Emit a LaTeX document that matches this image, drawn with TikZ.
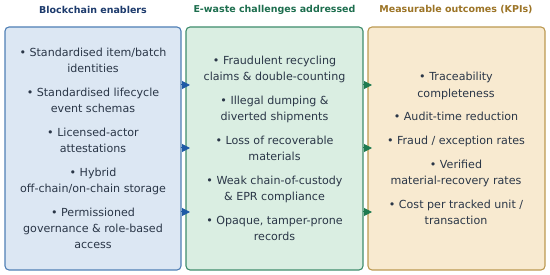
\documentclass[tikz,border=0pt]{standalone}
\usepackage{fontspec}
\setmainfont{DejaVu Sans}
\usetikzlibrary{arrows.meta}
\definecolor{bfill}{HTML}{DCE7F3}
\definecolor{bdraw}{HTML}{4F7FB5}
\definecolor{gfill}{HTML}{DAEEE2}
\definecolor{gdraw}{HTML}{3F8C6C}
\definecolor{yfill}{HTML}{F8EAD0}
\definecolor{ydraw}{HTML}{BC9A52}
\definecolor{btitle}{HTML}{1C3A6C}
\definecolor{gtitle}{HTML}{1D6E4E}
\definecolor{ytitle}{HTML}{9C7426}
\definecolor{txt}{HTML}{2A3647}
\definecolor{barrow}{HTML}{1F5AA6}
\definecolor{garrow}{HTML}{1E7A50}
\tikzset{
  panel/.style={rounded corners=4pt, line width=1.1pt},
  content/.style={text=txt, align=center, font=\fontsize{11.1}{16.2}\selectfont, inner sep=0pt},
  ttl/.style={font=\fontsize{9.5}{11}\selectfont\bfseries, inner sep=0pt},
  flow/.style={-{Triangle[length=8pt,width=8pt]}, line width=1pt},
}
\begin{document}
\begin{tikzpicture}[x=1pt,y=-1pt]
\useasboundingbox (0,0) rectangle (550,275);
\draw[panel, fill=bfill, draw=bdraw] (5,27) rectangle (181,270);
\draw[panel, fill=gfill, draw=gdraw] (186,27) rectangle (363,270);
\draw[panel, fill=yfill, draw=ydraw] (368,27) rectangle (545,270);
\node[ttl, text=btitle] (t1) at (93,10) {Blockchain enablers};
\node[ttl, text=gtitle] (t2) at (274.5,10) {E-waste challenges addressed};
\node[ttl, text=ytitle] (t3) at (456,10) {Measurable outcomes (KPIs)};
\node[content] (c1) at (93,148.5) {• Standardised item/batch\\identities\\[7.5pt]
• Standardised lifecycle\\event schemas\\[7.5pt]
• Licensed-actor\\attestations\\[7.5pt]
• Hybrid\\off-chain/on-chain storage\\[7.5pt]
• Permissioned\\governance \& role-based\\access};
\node[content] (c2) at (274.5,148.5) {• Fraudulent recycling\\claims \& double-counting\\[7.5pt]
• Illegal dumping \&\\diverted shipments\\[7.5pt]
• Loss of recoverable\\materials\\[7.5pt]
• Weak chain-of-custody\\\& EPR compliance\\[7.5pt]
• Opaque, tamper-prone\\records};
\node[content] (c3) at (456,148.5) {• Traceability\\completeness\\[7.5pt]
• Audit-time reduction\\[7.5pt]
• Fraud / exception rates\\[7.5pt]
• Verified\\material-recovery rates\\[7.5pt]
• Cost per tracked unit /\\transaction};
\foreach \y/\n in {85/a,148/b,212/c}{
  \coordinate (l\n) at (181,\y);
  \coordinate (m\n) at (190,\y);
  \coordinate (r\n) at (363,\y);
  \coordinate (s\n) at (372,\y);
  \draw[flow, draw=barrow, fill=barrow] (l\n) -- (m\n);
  \draw[flow, draw=garrow, fill=garrow] (r\n) -- (s\n);
}
\end{tikzpicture}
\end{document}
